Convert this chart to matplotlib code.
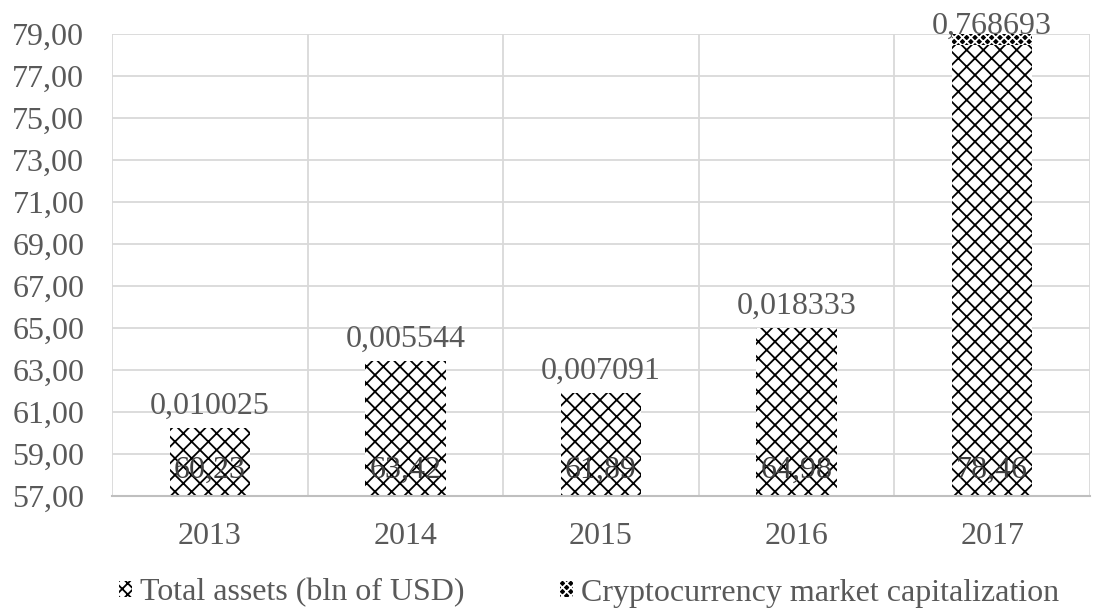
import matplotlib
matplotlib.use("Agg")
import matplotlib.pyplot as plt
from matplotlib.patches import Patch
from matplotlib.ticker import FixedLocator, FuncFormatter

years = ["2013", "2014", "2015", "2016", "2017"]
total_assets = [60.23, 63.42, 61.89, 64.98, 78.46]
crypto_cap = [0.010025, 0.005544, 0.007091, 0.018333, 0.768693]
crypto_labels = ["0,010025", "0,005544", "0,007091", "0,018333", "0,768693"]
total_labels = ["60,23", "63,42", "61,89", "64,98", "78,46"]
series_names = ["Total assets (bln of USD)", "Cryptocurrency market capitalization"]

plt.rcParams['font.family'] = ['Liberation Serif', 'DejaVu Serif']
plt.rcParams['hatch.linewidth'] = 1.3
txt = "#595959"
grid = "#d9d9d9"
FS = 23

fig = plt.figure(figsize=(11.05, 6.10), dpi=100)
ax = fig.add_axes([0.1014, 0.187, 0.885, 0.757])

YMIN, YMAX = 57, 79
x = list(range(len(years)))
w = 0.41
ax.bar(x, total_assets, width=w, color="white", edgecolor="black",
       hatch="xx", linewidth=0, zorder=2)
ax.bar(x, crypto_cap, width=w, bottom=total_assets, color="black",
       edgecolor="white", hatch="xxxx", linewidth=0, zorder=4)

for xi, lab in zip(x, total_labels):
    ax.text(xi, 58.2, lab, ha="center", va="center", fontsize=FS, color="#404040", zorder=3)
for xi, v, c, lab in zip(x, total_assets, crypto_cap, crypto_labels):
    if v + c > YMAX:
        ax.annotate(lab, (xi, YMAX), xytext=(0, 0), textcoords="offset points",
                    ha="center", va="baseline", fontsize=FS, color=txt, zorder=3,
                    annotation_clip=False)
    else:
        ax.annotate(lab, (xi, v + c), xytext=(0, 5), textcoords="offset points",
                    ha="center", va="bottom", fontsize=FS, color=txt, zorder=3,
                    annotation_clip=False)

ax.set_ylim(YMIN, YMAX)
ax.set_xlim(-0.5, len(years) - 0.5)
ax.set_yticks([YMIN + 2 * i for i in range(12)])
ax.yaxis.set_major_formatter(FuncFormatter(lambda v, p: f"{v:.2f}".replace(".", ",")))
ax.set_xticks(x)
ax.set_xticklabels(years)
ax.xaxis.set_minor_locator(FixedLocator([i - 0.5 for i in range(len(years) + 1)]))
ax.grid(axis="y", which="major", color=grid, linewidth=1.3, zorder=0)
ax.grid(axis="x", which="minor", color=grid, linewidth=1.3, zorder=0)
ax.tick_params(axis="both", which="both", length=0, labelsize=FS, labelcolor=txt)
ax.tick_params(axis="x", pad=19)
ax.tick_params(axis="y", pad=20)
for s in ["top", "right", "left"]:
    ax.spines[s].set_visible(False)
ax.spines["bottom"].set_color("#bfbfbf")
ax.spines["bottom"].set_linewidth(1.5)

handles = [Patch(facecolor="white", edgecolor="black", hatch="xxx", linewidth=0),
           Patch(facecolor="black", edgecolor="white", hatch="xxxx", linewidth=0)]
leg = fig.legend(handles, series_names, loc="center", bbox_to_anchor=(0.533, 0.028),
                 ncol=2, frameon=False, fontsize=FS, handlelength=0.4, handleheight=0.4,
                 handletextpad=0.25, columnspacing=3.0)
for t in leg.get_texts():
    t.set_color(txt)

fig.savefig("out.png", dpi=100)
